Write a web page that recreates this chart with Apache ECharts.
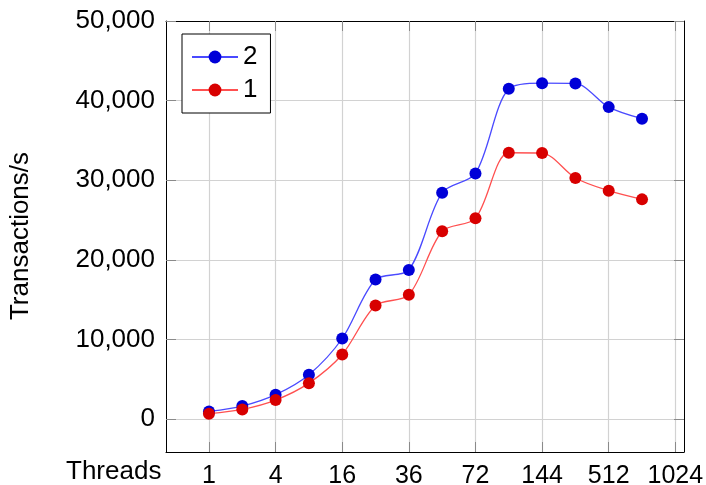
<!DOCTYPE html>
<html>
<head>
<meta charset="utf-8">
<script src="https://cdn.jsdelivr.net/npm/echarts@6/dist/echarts.min.js"></script>
<style>html,body{margin:0;padding:0;background:#fff}#c{width:706px;height:485px}</style>
</head>
<body>
<div id="c"></div>
<script>
// ---- data ----
var xTickLabels = ['1', '4', '16', '36', '72', '144', '512', '1024'];
var yTickValues = [0, 10000, 20000, 30000, 40000, 50000];
var yTickLabels = ['0', '10,000', '20,000', '30,000', '40,000', '50,000'];
var series2 = [950, 1620, 3050, 5560, 10110, 17520, 18730, 28430, 30850, 41480, 42190, 42150, 39180, 37720];
var series1 = [660, 1200, 2370, 4500, 8100, 14250, 15600, 23580, 25210, 33450, 33410, 30280, 28680, 27590];
var seriesNames = ['2', '1'];
var xName = 'Threads';
var yName = 'Transactions/s';

// ---- build ----
var FONT = '"Liberation Sans", Arial, sans-serif';
var xTickPos = xTickLabels.map(function (_, i) { return i * 2; });
function toPts(arr) { return arr.map(function (v, i) { return [i, v]; }); }
var xMin = -1.29, xMax = 14.26, yMin = -4150, yMax = 50000;

function xAxisDef(pos, main) {
  return {
    type: 'value', position: pos, min: xMin, max: xMax,
    axisLine: { show: true, onZero: false, lineStyle: { color: '#000', width: 1 } },
    axisTick: { show: true, inside: true, length: 10, customValues: xTickPos, lineStyle: { color: '#8a8a8a', width: 1 } },
    axisLabel: main ? {
      show: true, customValues: xTickPos, margin: 12, fontSize: 25, fontFamily: FONT, color: '#000',
      formatter: function (v) { var k = xTickPos.indexOf(Math.round(v)); return k >= 0 ? xTickLabels[k] : ''; }
    } : { show: false },
    splitLine: main ? { show: true, lineStyle: { color: '#d2d2d2', width: 1.2 } } : { show: false }
  };
}
function yAxisDef(pos, main) {
  return {
    type: 'value', position: pos, min: yMin, max: yMax,
    axisLine: { show: true, onZero: false, lineStyle: { color: '#000', width: 1 } },
    axisTick: { show: true, inside: true, length: 10, customValues: yTickValues, lineStyle: { color: '#8a8a8a', width: 1 } },
    axisLabel: main ? {
      show: true, customValues: yTickValues, margin: 11, fontSize: 26, fontFamily: FONT, color: '#000',
      formatter: function (v) { var k = yTickValues.indexOf(Math.round(v)); return k >= 0 ? yTickLabels[k] : ''; }
    } : { show: false },
    splitLine: main ? { show: true, lineStyle: { color: '#d2d2d2', width: 1.2 } } : { show: false }
  };
}

var chart = echarts.init(document.getElementById('c'), null, { renderer: 'canvas' });
chart.setOption({
  animation: false,
  backgroundColor: '#fff',
  grid: { left: 166, top: 21, right: 22, bottom: 33, containLabel: false, outerBoundsMode: 'none' },
  xAxis: [xAxisDef('bottom', true), xAxisDef('top', false)],
  yAxis: [yAxisDef('left', true), yAxisDef('right', false)],
  legend: {
    left: 182, top: 34, orient: 'vertical',
    backgroundColor: '#fff', borderColor: '#000', borderWidth: 1, borderRadius: 0,
    padding: [10, 13, 10, 9], itemGap: 7, itemWidth: 46, itemHeight: 16,
    textStyle: { fontSize: 26, fontFamily: FONT, color: '#000' },
    data: seriesNames
  },
  graphic: [
    { type: 'text', left: 66, top: 459, style: { text: xName, fontSize: 26, fontFamily: FONT, fill: '#000' } },
    { type: 'text', x: 21, y: 236, rotation: Math.PI / 2, style: { text: yName, fontSize: 26, fontFamily: FONT, fill: '#000', align: 'center', verticalAlign: 'middle' } }
  ],
  series: [
    {
      name: seriesNames[0], type: 'line', data: toPts(series2), smooth: 0.3,
      symbol: 'circle', symbolSize: 12,
      itemStyle: { color: '#0000d8' }, lineStyle: { color: '#4a4aff', width: 1.3 }, z: 3
    },
    {
      name: seriesNames[1], type: 'line', data: toPts(series1), smooth: 0.3,
      symbol: 'circle', symbolSize: 12,
      itemStyle: { color: '#d80000' }, lineStyle: { color: '#ff5050', width: 1.3 }, z: 3
    }
  ]
});
</script>
</body>
</html>
